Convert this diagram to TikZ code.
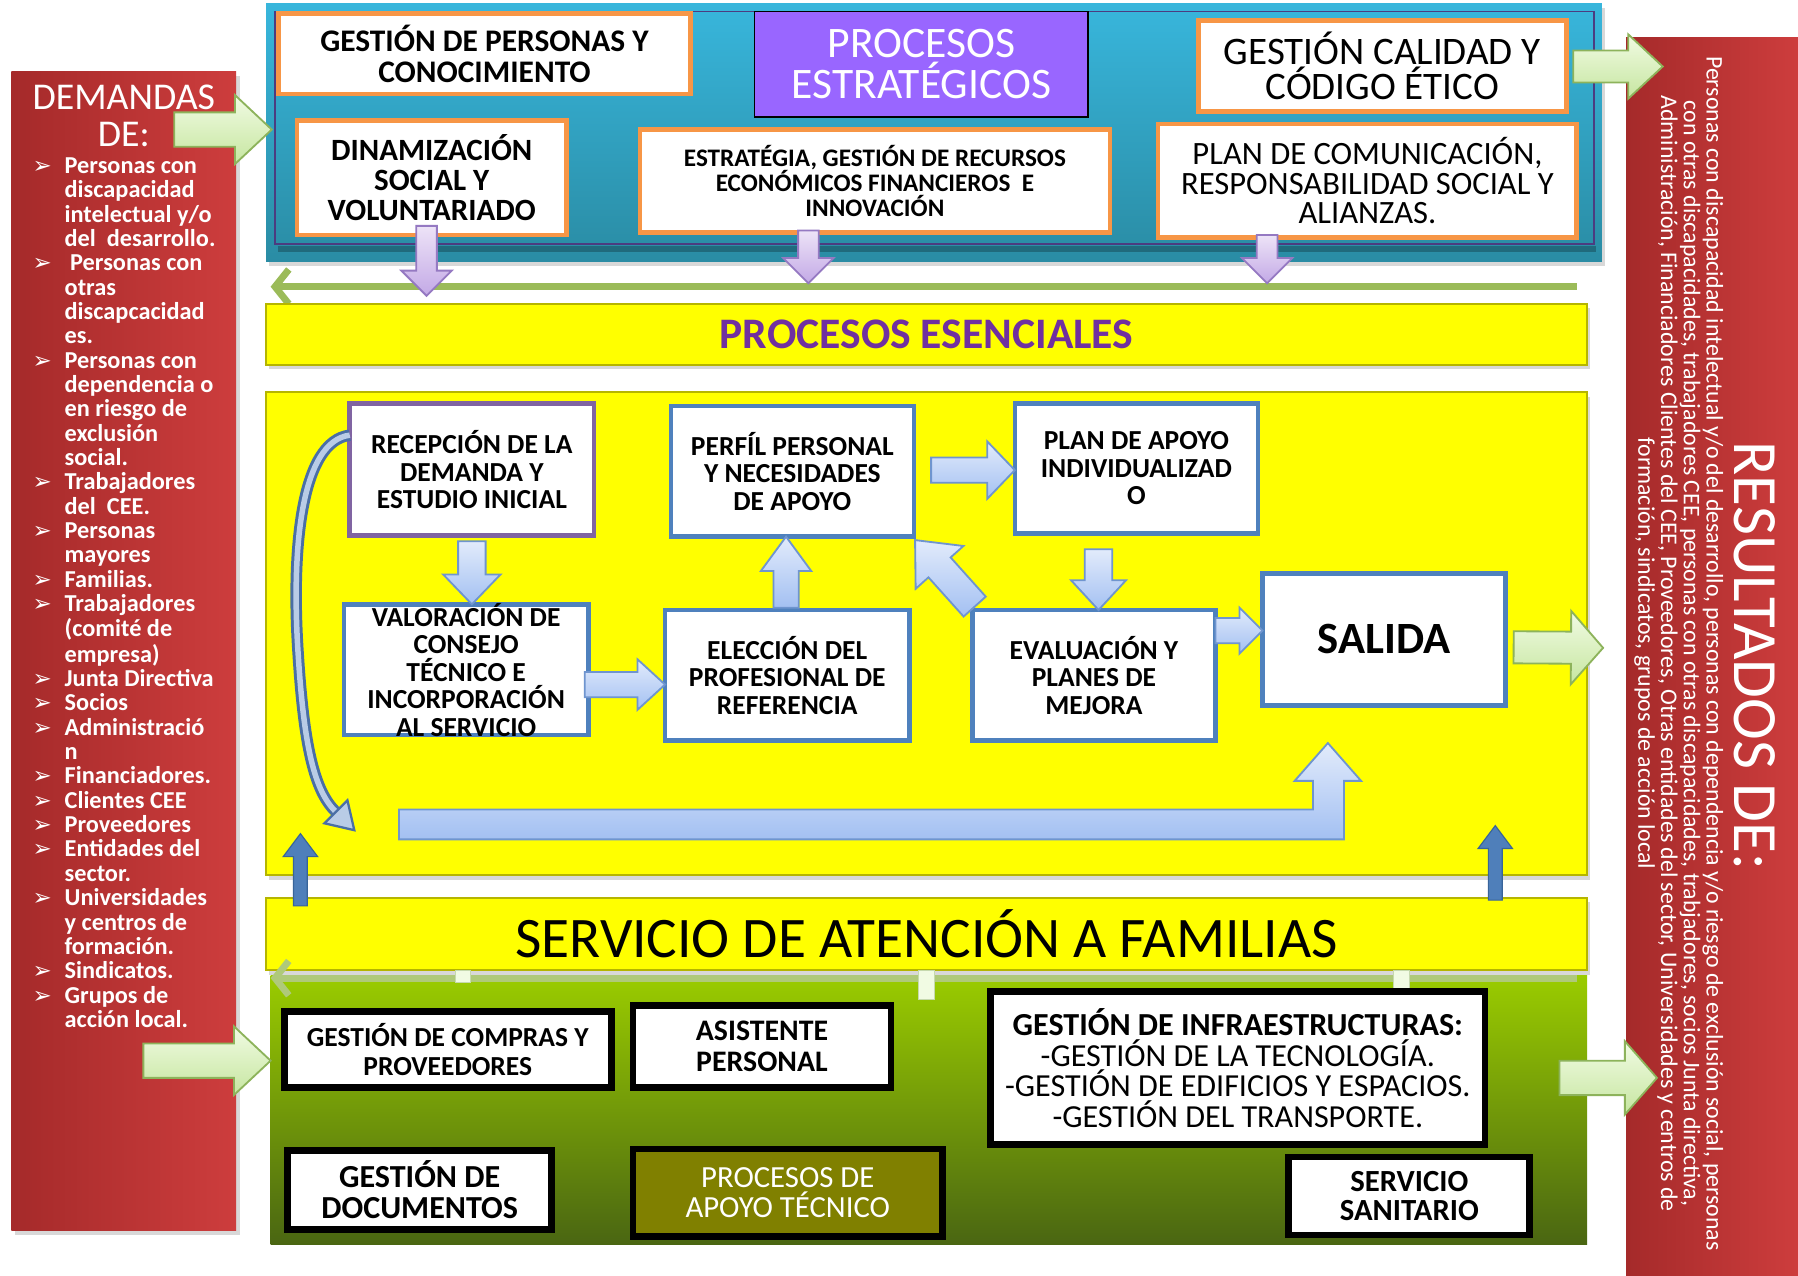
\documentclass[tikz,border=0pt]{standalone}
\usepackage{fontspec}
\setmainfont{Carlito}
\newfontfamily\symf{DejaVu Sans}
\usetikzlibrary{calc,fit,arrows.meta,shadows}
\definecolor{redD}{HTML}{A52A2A}
\definecolor{redL}{HTML}{CD3D3D}
\definecolor{tealT}{HTML}{38B6DC}
\definecolor{tealB}{HTML}{2A8CA4}
\definecolor{tealIn}{HTML}{4C3C80}
\definecolor{orangeB}{HTML}{F79646}
\definecolor{purpleF}{HTML}{9966FF}
\definecolor{yel}{HTML}{FFFF00}
\definecolor{yelB}{HTML}{B5B500}
\definecolor{blueB}{HTML}{4F81BD}
\definecolor{recB}{HTML}{8064A2}
\definecolor{ltbT}{HTML}{E2EBFB}
\definecolor{ltbB}{HTML}{A3C0F2}
\definecolor{ltbD}{HTML}{6F95CF}
\definecolor{lilT}{HTML}{EDE3F7}
\definecolor{lilB}{HTML}{C3A9E6}
\definecolor{lilD}{HTML}{9579C2}
\definecolor{grT}{HTML}{F1FBE3}
\definecolor{grB}{HTML}{C6E6A0}
\definecolor{grD}{HTML}{8DB35B}
\definecolor{lineG}{HTML}{9BBB59}
\definecolor{greenT}{HTML}{9ACC00}
\definecolor{greenB}{HTML}{4A6612}
\definecolor{oliveF}{HTML}{808000}
\definecolor{textP}{HTML}{7030A0}
\definecolor{dkblue}{HTML}{4F7FBA}
\definecolor{dkblueD}{HTML}{38649A}
\definecolor{cvD}{HTML}{4A6FA5}
\definecolor{cvL}{HTML}{B9CCE6}
\newcommand{\fsz}[2]{\fontsize{#1}{#2}\selectfont}
\newcommand{\bl}{{\symf\fontsize{10}{10}\selectfont ➢}}
% block arrow: style, start coord, end coord, shaft half width, head half width, head length
\newcommand{\barrow}[6]{%
  \coordinate (bH) at ($(#3)!#6!(#2)$);
  \path[#1] ($(#2)!#4!90:(#3)$) -- ($(bH)!#4!-90:(#2)$) -- ($(bH)!#5!-90:(#2)$) -- (#3)
     -- ($(bH)!#5!90:(#2)$) -- ($(bH)!#4!90:(#2)$) -- ($(#2)!#4!-90:(#3)$) -- cycle;}
\begin{document}
\begin{tikzpicture}[x=0.5pt,y=-0.5pt,
  bfr/.style={inner sep=0pt, outer sep=0pt},
  obox/.style={bfr, draw=orangeB, line width=2pt, fill=white},
  bbox/.style={bfr, draw=blueB, line width=2pt, fill=white},
  kbox/.style={bfr, draw=black, line width=3pt, fill=white},
  txt/.style={align=center, inner sep=0pt, outer sep=0pt, text=black},
  bt/.style={txt, font=\bfseries\fsz{12}{12}},
  shd/.style={drop shadow={shadow xshift=1.5pt, shadow yshift=-2pt, opacity=0.3}},
  yelbar/.style={bfr, fill=yel, draw=yelB, line width=0.8pt, shd},
  lb/.style={top color=ltbT, bottom color=ltbB, draw=ltbD, line width=0.8pt, line join=miter},
  lil/.style={top color=lilT, bottom color=lilB, draw=lilD, line width=0.8pt},
  pg/.style={top color=grT, bottom color=grB, draw=grD, line width=0.8pt},
  dkb/.style={fill=dkblue, draw=dkblueD, line width=0.5pt},
  gline/.style={draw=lineG, line width=3pt, -{Straight Barb[length=6pt,width=15pt]}}
]
\useasboundingbox (0,0) rectangle (1568,1112);
\fill[white] (0,0) rectangle (1568,1112);

% ---------- left panel ----------
\node[bfr, fit={(10,62) (206,1073)}, left color=redD, right color=redL, shd] (dem) {};
\node[txt, text=white, font=\fsz{16.5}{16}] (demt) at (108,101) {DEMANDAS\\DE:};
\node[anchor=north west, inner sep=0pt, text=white, font=\bfseries\fsz{10.6}{10.6}] (deml) at (28,136) {%
\begin{tabular}{@{}p{14pt}@{}l@{}}
\bl & Personas con\\
 & discapacidad\\
 & intelectual y/o\\
 & del\ \ desarrollo.\\
\bl & \ Personas con\\
 & otras\\
 & discapcacidad\\
 & es.\\
\bl & Personas con\\
 & dependencia o\\
 & en riesgo de\\
 & exclusión\\
 & social.\\
\bl & Trabajadores\\
 & del\ \ CEE.\\
\bl & Personas\\
 & mayores\\
\bl & Familias.\\
\bl & Trabajadores\\
 & (comité de\\
 & empresa)\\
\bl & Junta Directiva\\
\bl & Socios\\
\bl & Administració\\
 & n\\
\bl & Financiadores.\\
\bl & Clientes CEE\\
\bl & Proveedores\\
\bl & Entidades del\\
 & sector.\\
\bl & Universidades\\
 & y centros de\\
 & formación.\\
\bl & Sindicatos.\\
\bl & Grupos de\\
 & acción local.
\end{tabular}};

% ---------- right panel ----------
\node[bfr, fit={(1418,33) (1568,1112)}, left color=redD, right color=redL] (res) {};
\node[rotate=-90, inner sep=0pt, text=white, font=\fsz{27.5}{28}] (rest) at (1530,572) {RESULTADOS DE:};
\node[rotate=-90, inner sep=0pt, text=white, align=center, font=\fsz{10.4}{9.9}] (resl) at (1464,570) {%
Personas con discapacidad intelectual y/o del desarrollo, personas con dependencia y/o riesgo de exclusión social, personas\\
con otras discapacidades, trabajadores CEE, personas con otras discapacidades, trabjadores, socios Junta directiva,\\
Administración, Financiadores Clientes del CEE, Proveedores, Otras entidades del sector, Universidades y centros de\\
formación, sindicatos, grupos de acción local};

% ---------- strategic processes ----------
\node[bfr, fit={(232,3) (1397,228)}, top color=tealT, bottom color=tealB, shd] (str) {};
\draw[tealIn, line width=0.8pt] (240,10) rectangle (1390,213);
\draw[black, opacity=0.25, line width=2.5pt] (242,217) -- (1392,217);

\node[obox, fit={(243,12) (602,82)}, label={[txt, font=\bfseries\fsz{13.7}{13.5}]center:{GESTIÓN DE PERSONAS Y\\CONOCIMIENTO}}] (gp) {};
\node[bfr, fit={(658,10) (949,102)}, fill=purpleF, draw=black, line width=0.8pt, label={[txt, text=white, font=\fsz{19}{18}]center:{PROCESOS\\ESTRATÉGICOS}}] (pe) {};
\node[obox, fit={(1045,18) (1366,97)}, label={[txt, font=\fsz{17}{15.5}]center:{GESTIÓN CALIDAD Y\\CÓDIGO ÉTICO}}] (gc) {};
\node[obox, fit={(259,105) (494,205)}, label={[txt, font=\bfseries\fsz{13.5}{13.2}]center:{DINAMIZACIÓN\\SOCIAL Y\\VOLUNTARIADO}}] (dn) {};
\node[obox, fit={(558,113) (968,203)}, label={[txt, font=\bfseries\fsz{11}{11}]center:{ESTRATÉGIA, GESTIÓN DE RECURSOS\\ECONÓMICOS FINANCIEROS\ \ E\\INNOVACIÓN}}] (eg) {};
\node[obox, fit={(1010,108) (1375,207)}, label={[txt, font=\fsz{14.2}{13}]center:{PLAN DE COMUNICACIÓN,\\RESPONSABILIDAD SOCIAL Y\\ALIANZAS.}}] (pc) {};

% green return line
\coordinate (gl1s) at ($(str.south east)+(-22,22)$);
\coordinate (gl1e) at ($(str.south west)+(4,22)$);
\draw[gline] (gl1s) -- (gl1e);

% lilac arrows
\coordinate (l1s) at ($(dn.south)+(-4.5,-8)$);
\coordinate (l1e) at ($(dn.south)+(-4.5,53)$);
\barrow{lil}{l1s}{l1e}{4.5pt}{11pt}{11pt}
\coordinate (l2s) at ($(eg.south)+(-58,-2)$);
\coordinate (l2e) at ($(eg.south)+(-58,44)$);
\barrow{lil}{l2s}{l2e}{4.5pt}{11pt}{11pt}
\coordinate (l3s) at ($(pc.south)+(-87.5,-2)$);
\coordinate (l3e) at ($(pc.south)+(-87.5,40)$);
\barrow{lil}{l3s}{l3e}{4.5pt}{11pt}{11pt}

% ---------- essential processes ----------
\node[yelbar, fit={(232,265) (1384,318)}, label={[txt, text=textP, font=\bfseries\fsz{19}{19}]center:{PROCESOS ESENCIALES}}] (pes) {};
\node[yelbar, fit={(232,342) (1384,763)}] (ess) {};

\node[bbox, draw=recB, fit={(305,352) (518,467)}, label={[bt]center:{RECEPCIÓN DE LA\\DEMANDA Y\\ESTUDIO INICIAL}}] (rec) {};
\node[bbox, fit={(585,354) (797,468)}, label={[bt]center:{PERFÍL PERSONAL\\Y NECESIDADES\\DE APOYO}}] (pp) {};
\node[bbox, fit={(885,352) (1097,465)}, label={[bt]center:{PLAN DE APOYO\\INDIVIDUALIZAD\\O}}] (pa) {};
\node[bbox, fit={(300,527) (513,641)}, label={[bt]center:{VALORACIÓN DE\\CONSEJO\\TÉCNICO E\\INCORPORACIÓN\\AL SERVICIO}}] (val) {};
\node[bbox, fit={(580,532) (793,646)}, label={[bt]center:{ELECCIÓN DEL\\PROFESIONAL DE\\REFERENCIA}}] (el) {};
\node[bbox, fit={(848,532) (1060,646)}, label={[bt]center:{EVALUACIÓN Y\\PLANES DE\\MEJORA}}] (ev) {};
\node[bbox, fit={(1101,500) (1313,615)}, label={[txt, font=\bfseries\fsz{19.5}{20}]center:{SALIDA}}] (sa) {};

% light blue block arrows
\coordinate (a1s) at ($(rec.south)+(0,5)$);
\coordinate (a1e) at (a1s |- val.north);
\barrow{lb}{a1s}{a1e}{6pt}{12.5pt}{13pt}
\coordinate (a2s) at ($(val.east)+(-3,13)$);
\coordinate (a2e) at (a2s -| el.west);
\barrow{lb}{a2s}{a2e}{5.5pt}{11pt}{12pt}
\coordinate (a3s) at ($(el.north)+(-1,-2)$);
\coordinate (a3e) at (a3s |- pp.south);
\barrow{lb}{a3s}{a3e}{5.5pt}{11pt}{15pt}
\coordinate (a4s) at ($(pp.east)+(15,-1)$);
\coordinate (a4e) at (a4s -| pa.west);
\barrow{lb}{a4s}{a4e}{5.5pt}{12.5pt}{12pt}
\coordinate (a5e) at ($(ev.north)+(4,0)$);
\coordinate (a5s) at ($(a5e |- pa.south)+(0,14)$);
\barrow{lb}{a5s}{a5e}{6pt}{12pt}{13pt}
\coordinate (a6s) at ($(ev.north west)+(2,-3)$);
\coordinate (a6e) at ($(pp.south east)+(1,3)$);
\barrow{lb}{a6s}{a6e}{6.5pt}{14pt}{16pt}
\coordinate (a7s) at ($(ev.east)+(0,-39)$);
\coordinate (a7e) at (a7s -| sa.west);
\barrow{lb}{a7s}{a7e}{5.5pt}{10pt}{10pt}

% L-shaped arrow to SALIDA
\coordinate (Ls) at (348,719);
\coordinate (Lt) at ($(sa.south)+(-49,33)$);
\path[lb] (Ls |- 0,706) -- (1145,706) -- (1145,681) -- (1129,681) -- (Lt) -- (1187,681) -- (1172,681) -- (1172,732) -- (Ls |- 0,732) -- cycle;

% curved feedback arrow
\coordinate (cs) at ($(rec.west)+(0,-30)$);
\coordinate (ce) at (293,708);
\draw[cvD, line width=5pt] (cs) .. controls (262,385) and (254,480) .. (260,570) .. controls (265,650) and (274,690) .. (ce);
\draw[cvL, line width=2.4pt] (cs) .. controls (262,385) and (254,480) .. (260,570) .. controls (265,650) and (274,690) .. (ce);
\path[fill=cvL, draw=cvD, line width=1pt] (283,718) -- (309,724) -- (303,698) -- cycle;

% ---------- family service ----------
\node[yelbar, fit={(232,783) (1384,846)}, label={[txt, font=\fsz{25}{26}]center:{SERVICIO DE ATENCIÓN A FAMILIAS}}] (sf) {};
\coordinate (b1s) at ($(sf.north west)+(30,7)$);
\coordinate (b1e) at ($(b1s)+(0,-63)$);
\barrow{dkb}{b1s}{b1e}{3pt}{7.5pt}{10pt}
\coordinate (b2s) at ($(sf.north east)+(-80,2)$);
\coordinate (b2e) at ($(b2s)+(0,-65)$);
\barrow{dkb}{b2s}{b2e}{3pt}{7.5pt}{10pt}

% ---------- support processes ----------
\node[bfr, fit={(236,851) (1384,1085)}, top color=greenT, bottom color=greenB] (gr) {};
\coordinate (gl2s) at ($(gr.north east)+(-9,2)$);
\coordinate (gl2e) at ($(gr.north west)+(0,2)$);
\draw[gline, draw=lineG!80!white] (gl2s) -- (gl2e);
\fill[grT, draw=grD!50] (397,846) rectangle (410,857);
\fill[grT, draw=grD!50] (801,846) rectangle (815,872);
\fill[grT, draw=grD!50] (1215,846) rectangle (1229,872);

\node[kbox, fit={(248,882) (533,948)}, label={[txt, font=\bfseries\fsz{12}{12.5}]center:{GESTIÓN DE COMPRAS Y\\PROVEEDORES}}] (gcp) {};
\node[kbox, fit={(552,877) (777,948)}, label={[txt, font=\bfseries\fsz{13}{13.5}]center:{ASISTENTE\\PERSONAL}}] (ap) {};
\node[kbox, fit={(864,865) (1295,998)}, label={[txt, font=\fsz{14}{13.3}]center:{\textbf{GESTIÓN DE INFRAESTRUCTURAS:}\\-GESTIÓN DE LA TECNOLOGÍA.\\-GESTIÓN DE EDIFICIOS Y ESPACIOS.\\-GESTIÓN DEL TRANSPORTE.}}] (gi) {};
\node[kbox, fit={(251,1003) (481,1072)}, label={[txt, font=\bfseries\fsz{14}{13.5}]center:{GESTIÓN DE\\DOCUMENTOS}}] (gd) {};
\node[kbox, fill=oliveF, fit={(552,1002) (822,1078)}, label={[txt, text=white, font=\fsz{13.4}{13}]center:{PROCESOS DE\\APOYO TÉCNICO}}] (pat) {};
\node[kbox, fit={(1124,1009) (1334,1077)}, label={[txt, font=\bfseries\fsz{13.4}{13}]center:{SERVICIO\\SANITARIO}}] (ss) {};

% ---------- pale green in/out arrows ----------
\coordinate (g1s) at ($(dem.north east)+(-54,51)$);
\coordinate (g1e) at ($(g1s -| str.west)+(5,0)$);
\barrow{pg}{g1s}{g1e}{7.5pt}{15pt}{16pt}
\coordinate (g2s) at (125,925);
\coordinate (g2e) at (g2s -| gr.west);
\barrow{pg}{g2s}{g2e}{7.5pt}{15pt}{16pt}
\coordinate (g3s) at (1372,58);
\coordinate (g3e) at (1450,58);
\barrow{pg}{g3s}{g3e}{7pt}{14pt}{15pt}
\coordinate (g4s) at (1360,940);
\coordinate (g4e) at (1445,940);
\barrow{pg}{g4s}{g4e}{7.5pt}{16pt}{14pt}
\coordinate (g5s) at ($(sa.east)+(7,7)$);
\coordinate (g5e) at (1398,565);
\barrow{pg}{g5s}{g5e}{7pt}{16pt}{14pt}
\end{tikzpicture}
\end{document}
